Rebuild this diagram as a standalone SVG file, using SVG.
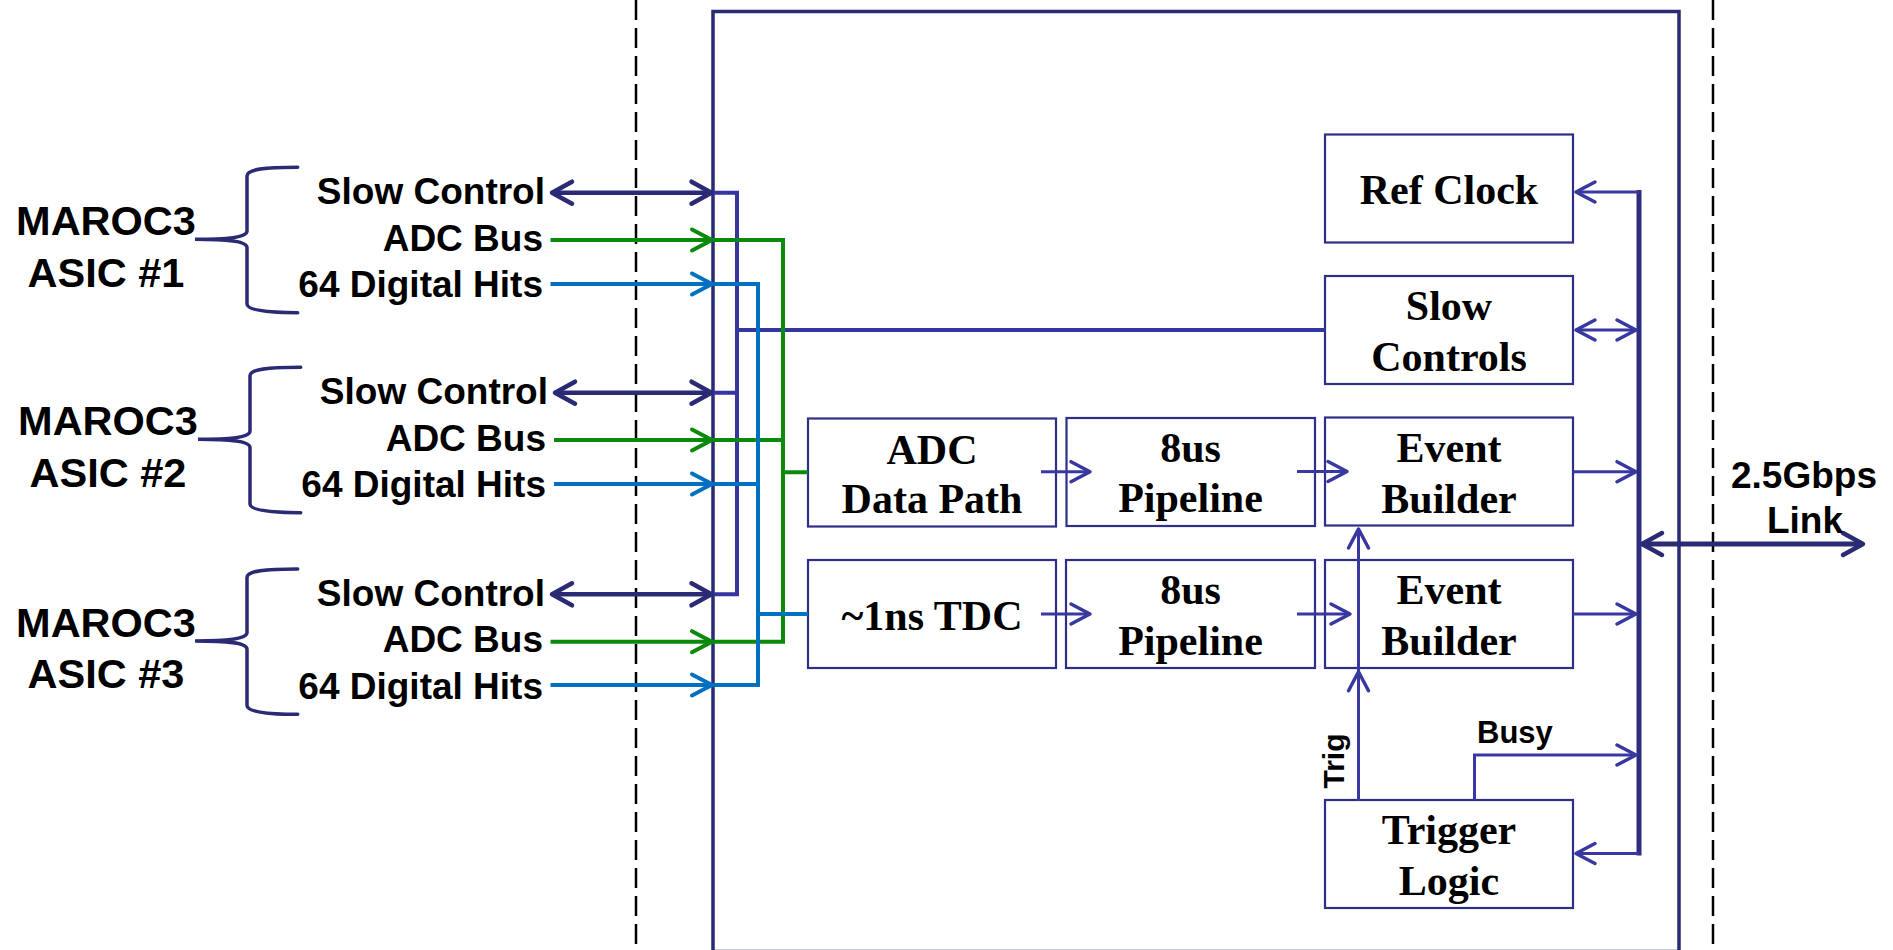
<svg xmlns="http://www.w3.org/2000/svg" width="1893" height="950" viewBox="0 0 1893 950">
<style>
.bg{fill:#ffffff}
.lbl{font-family:"Liberation Sans",Arial,sans-serif;font-weight:bold;fill:#000}
.asic{font-size:41.5px;text-anchor:middle}
.sig{font-size:37px;text-anchor:end}
.box{fill:none;stroke:#2f2f8a;stroke-width:2.2}
.btxt{font-family:"Liberation Serif","Times New Roman",serif;font-weight:bold;font-size:42px;text-anchor:middle;fill:#000}
.brace{fill:none;stroke:#2a2a75;stroke-width:3.5;stroke-linecap:round}
.dash{stroke:#000;stroke-width:2.5;stroke-dasharray:20 8}
.sc{stroke:#2a2a75;stroke-width:4.5;fill:none}
.nb{stroke:#3636a0;stroke-width:4;fill:none}
.gr{stroke:#0a8a0a;stroke-width:4;fill:none}
.bl{stroke:#0070c0;stroke-width:4;fill:none}
.md{stroke:#3838a0;stroke-width:3;fill:none}
.rb{stroke:#2e2e80;stroke-width:5;fill:none}
.lk{stroke:#2a2a75;stroke-width:5;fill:none}
</style>
<defs>
<marker id="mDark" viewBox="-26 -14 30 28" refX="0" refY="0" markerWidth="30" markerHeight="28" markerUnits="userSpaceOnUse" orient="auto-start-reverse" overflow="visible"><path d="M-20,-11 L0,0 L-20,11" fill="none" stroke="#2a2a75" stroke-width="4.5" stroke-linecap="round" stroke-linejoin="round"/></marker>
<marker id="mMed" viewBox="-26 -14 30 28" refX="0" refY="0" markerWidth="30" markerHeight="28" markerUnits="userSpaceOnUse" orient="auto-start-reverse" overflow="visible"><path d="M-19,-10 L0,0 L-19,10" fill="none" stroke="#3838a0" stroke-width="3.5" stroke-linecap="round" stroke-linejoin="round"/></marker>
<marker id="mGreen" viewBox="-26 -14 30 28" refX="0" refY="0" markerWidth="30" markerHeight="28" markerUnits="userSpaceOnUse" orient="auto" overflow="visible"><path d="M-20,-10.5 L0,0 L-20,10.5" fill="none" stroke="#0a8a0a" stroke-width="4" stroke-linecap="round" stroke-linejoin="round"/></marker>
<marker id="mBlue" viewBox="-26 -14 30 28" refX="0" refY="0" markerWidth="30" markerHeight="28" markerUnits="userSpaceOnUse" orient="auto" overflow="visible"><path d="M-20,-10.5 L0,0 L-20,10.5" fill="none" stroke="#0070c0" stroke-width="4" stroke-linecap="round" stroke-linejoin="round"/></marker>
</defs>
<rect class="bg" x="0" y="0" width="1893" height="950"/>

<g id="boundaries">
<line class="dash" x1="636" y1="0" x2="636" y2="950"/>
<line class="dash" x1="1713" y1="0" x2="1713" y2="950"/>
<rect id="fpga" x="713" y="11.5" width="966" height="940" fill="none" stroke="#2a2a75" stroke-width="3.5"/>
</g>

<g id="asic1">
<path class="brace" d="M297.7,167.3 C265,167.3 247,169 247,176 V231 C247,237 230,239.3 195,239.3 C230,239.3 247,241.6 247,247.6 V304 C247,310 265,312.7 297.7,312.7"/>
<text class="lbl asic" x="106" y="235">MAROC3</text>
<text class="lbl asic" x="106" y="286.5">ASIC #1</text>
<text class="lbl sig" x="545" y="204">Slow Control</text>
<text class="lbl sig" x="543" y="250.5">ADC Bus</text>
<text class="lbl sig" x="543" y="297">64 Digital Hits</text>
</g>

<g id="asic2" transform="translate(3,200)">
<path class="brace" d="M297.7,167.3 C265,167.3 247,169 247,176 V231 C247,237 230,239.3 195,239.3 C230,239.3 247,241.6 247,247.6 V304 C247,310 265,312.7 297.7,312.7"/>
<text class="lbl asic" x="105" y="235">MAROC3</text>
<text class="lbl asic" x="105" y="286.5">ASIC #2</text>
<text class="lbl sig" x="545" y="204">Slow Control</text>
<text class="lbl sig" x="543" y="250.5">ADC Bus</text>
<text class="lbl sig" x="543" y="297">64 Digital Hits</text>
</g>

<g id="asic3" transform="translate(0,401.6)">
<path class="brace" d="M297.7,167.3 C265,167.3 247,169 247,176 V231 C247,237 230,239.3 195,239.3 C230,239.3 247,241.6 247,247.6 V304 C247,310 265,312.7 297.7,312.7"/>
<text class="lbl asic" x="106" y="235">MAROC3</text>
<text class="lbl asic" x="106" y="286.5">ASIC #3</text>
<text class="lbl sig" x="545" y="204">Slow Control</text>
<text class="lbl sig" x="543" y="250.5">ADC Bus</text>
<text class="lbl sig" x="543" y="297">64 Digital Hits</text>
</g>

<g id="adc">
<rect class="box" x="808" y="418.5" width="248" height="108"/>
<text class="btxt" x="932" y="463.5">ADC</text>
<text class="btxt" x="932" y="513">Data Path</text>
</g>
<g id="pipe1">
<rect class="box" x="1066.5" y="418" width="248.5" height="108"/>
<text class="btxt" x="1190.5" y="461.5">8us</text>
<text class="btxt" x="1190.5" y="511.5">Pipeline</text>
</g>
<g id="tdc">
<rect class="box" x="808" y="560" width="248" height="108"/>
<text class="btxt" x="932" y="630">~1ns TDC</text>
</g>
<g id="pipe2">
<rect class="box" x="1066" y="560" width="249" height="108"/>
<text class="btxt" x="1190.5" y="604">8us</text>
<text class="btxt" x="1190.5" y="655">Pipeline</text>
</g>
<g id="refclock">
<rect class="box" x="1325" y="134.5" width="248" height="108"/>
<text class="btxt" x="1449" y="203.5">Ref Clock</text>
</g>
<g id="slowcontrols">
<rect class="box" x="1325" y="276" width="248" height="108"/>
<text class="btxt" x="1449" y="320">Slow</text>
<text class="btxt" x="1449" y="370.5">Controls</text>
</g>
<g id="eb1">
<rect class="box" x="1325" y="417.5" width="248" height="108"/>
<text class="btxt" x="1449" y="461.5">Event</text>
<text class="btxt" x="1449" y="513">Builder</text>
</g>
<g id="eb2">
<rect class="box" x="1325" y="560" width="248" height="108"/>
<text class="btxt" x="1449" y="603.5">Event</text>
<text class="btxt" x="1449" y="655">Builder</text>
</g>
<g id="trigger">
<rect class="box" x="1325" y="800" width="248" height="108"/>
<text class="btxt" x="1449" y="843.5">Trigger</text>
<text class="btxt" x="1449" y="895">Logic</text>
</g>

<g id="connectors">
<path class="nb" d="M713,192.7 H737 V594.3 H713 M713,392.7 H737 M737,330 H1325"/>
<line class="sc" x1="552" y1="192.7" x2="711.5" y2="192.7" marker-start="url(#mDark)" marker-end="url(#mDark)"/>
<line class="sc" x1="555" y1="392.7" x2="711.5" y2="392.7" marker-start="url(#mDark)" marker-end="url(#mDark)"/>
<line class="sc" x1="552" y1="594.3" x2="711.5" y2="594.3" marker-start="url(#mDark)" marker-end="url(#mDark)"/>
<path class="gr" d="M712,240 H783 V641.7 H712 M712,440 H783 M783,472.3 H808"/>
<line class="gr" x1="550.5" y1="240" x2="712" y2="240" marker-end="url(#mGreen)"/>
<line class="gr" x1="554" y1="440" x2="712" y2="440" marker-end="url(#mGreen)"/>
<line class="gr" x1="550.5" y1="641.7" x2="712" y2="641.7" marker-end="url(#mGreen)"/>
<path class="bl" d="M712,284 H758 V685 H712 M712,484 H758 M758,614 H808"/>
<line class="bl" x1="550.5" y1="284" x2="712" y2="284" marker-end="url(#mBlue)"/>
<line class="bl" x1="554" y1="484" x2="712" y2="484" marker-end="url(#mBlue)"/>
<line class="bl" x1="550.5" y1="685" x2="712" y2="685" marker-end="url(#mBlue)"/>
<path class="md" d="M1041,471.7 H1090" marker-end="url(#mMed)"/>
<path class="md" d="M1041,614 H1090" marker-end="url(#mMed)"/>
<path class="md" d="M1297,471.5 H1347" marker-end="url(#mMed)"/>
<path class="md" d="M1297,614 H1350" marker-end="url(#mMed)"/>
<path class="md" d="M1573,471.7 H1636" marker-end="url(#mMed)"/>
<path class="md" d="M1573,614 H1636" marker-end="url(#mMed)"/>
<path class="rb" d="M1639,190 V855.5"/>
<path class="md" d="M1639,192 H1576" marker-end="url(#mMed)"/>
<path class="md" d="M1576,330 H1636" marker-start="url(#mMed)" marker-end="url(#mMed)"/>
<path class="md" d="M1639,853.5 H1576" marker-end="url(#mMed)"/>
<path class="md" d="M1474.5,800 V755 H1636" marker-end="url(#mMed)"/>
<path class="md" d="M1358.5,801 V529" marker-end="url(#mMed)"/>
<path class="md" d="M1358.5,700 V671.7" marker-end="url(#mMed)"/>
<path class="lk" d="M1642,544 H1863" marker-start="url(#mDark)" marker-end="url(#mDark)"/>
</g>

<g id="labels">
<text class="lbl" x="1477" y="742.5" font-size="31">Busy</text>
<text class="lbl" transform="translate(1344,761) rotate(-90)" x="0" y="0" font-size="30" text-anchor="middle">Trig</text>
<text class="lbl" x="1804" y="488" font-size="37" text-anchor="middle">2.5Gbps</text>
<text class="lbl" x="1805" y="533" font-size="37" text-anchor="middle">Link</text>
</g>
</svg>
